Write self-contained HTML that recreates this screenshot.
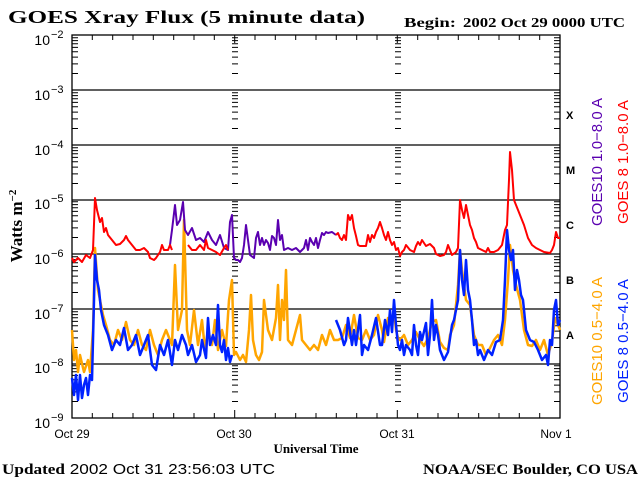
<!DOCTYPE html>
<html><head><meta charset="utf-8"><style>
html,body{margin:0;padding:0;background:#fff;width:640px;height:480px;overflow:hidden}
svg text{font-family:"Liberation Sans",sans-serif}
.s{font-family:"Liberation Serif",serif;font-weight:bold}
</style></head><body>
<svg width="640" height="480" viewBox="0 0 640 480" xmlns="http://www.w3.org/2000/svg">
<defs>
<path id="dt" d="M0 -16.5h6M0 -26.1h6M0 -32.9h6M0 -38.2h6M0 -42.6h6M0 -46.2h6M0 -49.4h6M0 -52.2h6" stroke="#000" stroke-width="1" fill="none"/>
<g id="col"><use href="#dt" y="90"/><use href="#dt" y="145"/><use href="#dt" y="200"/><use href="#dt" y="254"/><use href="#dt" y="309"/><use href="#dt" y="364"/><use href="#dt" y="418"/></g>
</defs>
<rect width="640" height="480" fill="#fff"/>
<text x="8" y="23" class="s" font-size="18" textLength="357" lengthAdjust="spacingAndGlyphs">GOES Xray Flux (5 minute data)</text>
<text x="404" y="27" class="s" font-size="14" textLength="52" lengthAdjust="spacingAndGlyphs">Begin:</text>
<text x="463" y="27" class="s" font-size="14" textLength="162" lengthAdjust="spacingAndGlyphs">2002 Oct 29 0000 UTC</text>
<g font-size="14" text-anchor="end">
<text x="50" y="45">10</text><text x="50" y="100">10</text><text x="50" y="155">10</text><text x="50" y="209">10</text><text x="50" y="264">10</text><text x="50" y="319">10</text><text x="50" y="373">10</text><text x="50" y="428">10</text>
</g>
<g font-size="11">
<text x="51" y="38">−2</text><text x="51" y="93">−3</text><text x="51" y="148">−4</text><text x="51" y="202">−5</text><text x="51" y="257">−6</text><text x="51" y="312">−7</text><text x="51" y="366">−8</text><text x="51" y="421">−9</text>
</g>
<text transform="translate(22,226) rotate(-90)" text-anchor="middle" class="s" font-size="17">Watts m<tspan font-size="11" dy="-6">−2</tspan></text>
<g fill="none" stroke="#000" stroke-width="1.3">
<rect x="72" y="35" width="488" height="383"/>
<path d="M72 90H560M72 145H560M72 200H560M72 254H560M72 309H560M72 364H560"/>
</g>
<use href="#col" x="72"/>
<use href="#col" x="232"/>
<use href="#col" x="395"/>
<use href="#col" transform="translate(560,0) scale(-1,1)"/>
<path stroke="#000" stroke-width="1" fill="none" d="M72 418v-8M92.3 418v-5M112.7 418v-5M133 418v-5M153.3 418v-5M173.7 418v-5M194 418v-5M214.3 418v-5M234.7 418v-8M255 418v-5M275.3 418v-5M295.7 418v-5M316 418v-5M336.3 418v-5M356.7 418v-5M377 418v-5M397.3 418v-8M417.7 418v-5M438 418v-5M458.3 418v-5M478.7 418v-5M499 418v-5M519.3 418v-5M539.7 418v-5M560 418v-8
M72 35v8M92.3 35v5M112.7 35v5M133 35v5M153.3 35v5M173.7 35v5M194 35v5M214.3 35v5M234.7 35v8M255 35v5M275.3 35v5M295.7 35v5M316 35v5M336.3 35v5M356.7 35v5M377 35v5M397.3 35v8M417.7 35v5M438 35v5M458.3 35v5M478.7 35v5M499 35v5M519.3 35v5M539.7 35v5M560 35v8"/>
<g font-size="12" text-anchor="middle">
<text x="72" y="438">Oct 29</text><text x="234" y="438">Oct 30</text><text x="397" y="438">Oct 31</text><text x="556" y="438">Nov 1</text>
</g>
<text x="316" y="453" class="s" font-size="13" text-anchor="middle">Universal Time</text>
<text x="2" y="474" font-size="15" textLength="273" lengthAdjust="spacingAndGlyphs"><tspan class="s">Updated</tspan> 2002 Oct 31 23:56:03 UTC</text>
<text x="638" y="474" class="s" font-size="15" text-anchor="end" textLength="215" lengthAdjust="spacingAndGlyphs">NOAA/SEC Boulder, CO USA</text>
<g class="s" font-size="11"><text x="566" y="119">X</text><text x="566" y="174">M</text><text x="566" y="229">C</text><text x="566" y="284">B</text><text x="566" y="339">A</text></g>
<g font-size="15" text-anchor="middle">
<text transform="translate(602,162) rotate(-90)" fill="#5a00b0">GOES10 1.0−8.0 A</text>
<text transform="translate(628,162) rotate(-90)" fill="#ff0000">GOES 8 1.0−8.0 A</text>
<text transform="translate(602,341) rotate(-90)" fill="#ffa500">GOES10 0.5−4.0 A</text>
<text transform="translate(628,341) rotate(-90)" fill="#0022ff">GOES 8 0.5−4.0 A</text>
</g>
<g fill="none" stroke-width="2" stroke-linejoin="round">
<polyline stroke="#ffa500" stroke-width="2.5" points="72,330 74,360 76,350 78,372 80,355 84,372 88,360 90,372 93,330 95,248 98,290 100,300 103,315 106,325 110,340 114,345 118,330 122,340 126,322 130,340 134,345 138,330 142,345 146,350 150,330 154,345 158,355 162,340 166,330 172,345 175,265 178,330 182,310 184,220 187,330 190,345 194,310 198,345 202,320 205,350 208,330 212,345 215,320 218,350 222,330 226,346 229,300 232,280 234,355 236,352 240,360 243,355 246,362 249,330 251,295 253,340 256,355 259,360 262,352 264,300 266,315 268,330 272,340 276,318 278,285 280,340 282,300 284,320 286,270 288,340 292,345 296,330 300,315 302,340 306,345 310,350 314,345 318,350 322,335 326,345 330,330 334,340 338,340 342,338 346,325 350,338 354,315 358,338 362,340 366,330 370,340 374,335 378,315 382,330 384,342 388,318 391,325 394,310 396,330 398,338 400,340 404,335 408,345 412,340 416,332 420,340 424,346 428,338 432,322 436,320 440,342 444,348 448,350 450,335 454,325 458,285 460,250 462,270 466,300 470,305 474,335 478,345 482,345 486,355 490,348 494,340 498,335 502,345 505,320 508,280 510,245 513,270 516,285 520,300 524,330 528,345 532,346 536,340 540,350 544,340 548,355 552,342 555,318 558,325 560,330"/>
<polyline stroke="#0022ff" stroke-width="2.5" points="72,378 74,395 76,375 78,400 80,375 82,398 84,385 86,378 88,395 90,375 92,380 94,300 95,255 97,280 99,290 101,310 104,325 108,335 112,350 116,340 120,345 124,328 128,350 132,345 136,335 140,355 144,345 148,335 152,365 156,370 160,345 164,355 168,340 172,365 175,340 178,350 182,335 186,345 188,355 192,345 196,362 200,355 202,340 206,358 208,318 210,345 213,335 216,345 218,305 220,345 222,352 224,340 226,360 228,348 230,362 232,355"/>
<polyline stroke="#0022ff" stroke-width="2.5" points="336,320 340,330 344,345 346,340 348,318 352,345 354,330 356,345 358,330 360,315 362,355 364,345 368,350 372,335 376,318 380,345 382,345 385,320 388,335 390,310 392,332 394,300 396,325 398,345 400,350 402,340 404,355 406,345 410,350 412,355 414,325 416,345 418,355 420,332 422,340 426,323 428,355 430,335 432,300 434,340 436,325 438,335 440,350 444,360 448,352 452,325 454,320 458,300 460,250 462,280 464,295 466,260 468,290 470,300 472,320 474,345 476,340 478,355 480,350 484,360 488,350 492,355 496,342 500,340 503,320 505,280 507,230 509,250 511,260 513,250 515,290 517,270 519,280 521,295 523,300 526,330 530,340 534,342 538,350 542,360 546,355 548,365 550,340 552,345 554,310 556,300 558,325 560,320"/>
<polyline stroke="#5a00b0" points="170,245 172,230 175,205 177,225 180,220 183,202 185,230 188,235 192,228 196,240 200,238 204,242 208,232 212,240 216,245 220,235 224,248 228,250 230,222 232,215 234,258 236,260 238,260 240,262 242,258 244,245 246,225 248,240 250,255 254,258 256,238 258,232 260,245 262,238 264,245 266,240 268,243 270,250 272,236 274,238 276,245 278,220 280,240 282,235 284,250 288,248 292,250 296,248 300,252 304,248 306,240 308,250 310,238 312,242 314,245 316,238 318,248 320,240 322,233 324,235 326,232 328,233 332,232 336,235"/>
<polyline stroke="#ff0000" points="72,258 74,262 78,258 82,262 86,255 90,258 93,250 95,198 97,210 100,222 102,218 104,232 106,228 108,235 112,240 116,245 120,244 124,240 126,236 128,240 132,245 136,250 140,250 144,248 148,252 150,258 154,260 156,258 160,252 162,245 164,250 168,250 170,245 172,250"/>
<polyline stroke="#ff0000" points="188,245 192,250 196,250 200,245 204,250 206,240 208,248 212,250 216,252 220,255 224,248 226,245 228,250"/>
<polyline stroke="#ff0000" points="336,235 338,233 340,238 342,240 344,235 346,240 348,215 350,220 352,215 354,228 356,236 358,245 360,246 364,246 366,246 368,235 370,242 372,235 374,238 376,232 378,228 380,222 382,228 384,235 386,240 388,232 390,240 392,245 394,242 396,250 398,248 400,256 402,252 404,250 406,245 410,250 414,252 416,246 418,242 420,245 422,240 426,246 430,244 434,248 436,254 440,256 444,255 446,252 448,245 450,250 452,255 456,252 458,248 460,200 462,210 464,218 466,205 468,215 470,225 472,230 474,238 476,242 478,248 482,250 486,252 488,248 490,252 494,252 498,250 502,245 505,230 507,225 509,180 510,152 512,170 514,200 516,205 518,210 520,215 524,225 528,238 532,245 536,248 540,250 544,252 550,253 552,250 554,245 556,232 558,238 560,238"/>
</g>
</svg>
</body></html>
